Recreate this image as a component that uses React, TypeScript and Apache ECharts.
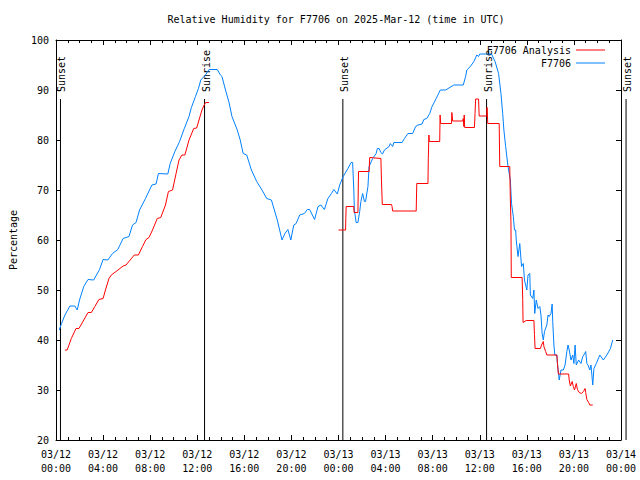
import React, { useEffect, useRef } from "react";
import * as echarts from "echarts";

// hours since 2025-03-12 00:00 UTC, relative humidity %
const observed: [number, number][] = [
  [0.28, 42], [0.47, 43.3], [0.76, 45], [1.18, 46.8], [1.6, 46.8], [1.8, 46], [2.0, 48],
  [2.36, 50.7], [2.72, 52.1], [3.2, 52], [3.7, 54.1], [4.0, 56.1], [4.4, 56], [4.8, 57.3],
  [5.25, 58.1], [5.7, 60.3], [6.2, 60.7], [6.5, 63], [6.8, 63.5], [7.1, 66], [7.6, 68.3],
  [8.15, 71], [8.5, 71.2], [8.7, 73.3], [9.5, 73.2], [9.7, 75.3], [10.1, 77.7], [10.5, 79.7],
  [10.9, 82.3], [11.3, 84.7], [11.5, 86.5], [11.85, 88.7], [12.1, 90.3], [12.3, 92],
  [12.7, 93], [13.0, 94.1], [13.7, 94.1], [13.97, 93], [14.1, 92.7], [14.4, 90],
  [14.7, 87.5], [14.95, 84.7], [15.4, 82], [15.65, 80], [15.9, 77.3], [16.2, 77],
  [16.6, 74], [17.05, 71.7], [17.5, 70], [17.9, 68.3], [18.3, 68], [18.55, 66], [18.8, 64],
  [19.2, 60], [19.45, 61.3], [19.7, 62.1], [19.95, 60], [20.2, 63], [20.4, 63.3], [20.7, 65],
  [21.1, 65.3], [21.35, 66.1], [21.55, 66.1], [21.97, 64.1], [22.26, 66.7], [22.5, 67],
  [22.8, 66.1], [23.1, 68.3], [23.4, 69.3], [23.6, 70.1], [23.9, 69.2], [24.1, 71],
  [24.4, 72.7], [24.8, 74.3], [25.07, 75.5], [25.2, 75.5], [25.3, 70], [25.35, 66],
  [25.5, 63.5], [25.65, 63.5], [25.8, 65.7], [25.9, 67.7], [26.05, 69.3], [26.2, 67.7],
  [26.3, 67.7], [26.5, 70.7], [26.6, 74.7], [26.9, 76.3], [27.2, 77.3], [27.3, 78.3],
  [27.45, 78.3], [27.6, 77.5], [27.74, 77.2], [27.9, 78], [28.3, 78.7], [28.4, 79.3],
  [28.6, 78.7], [28.7, 79.5], [29.4, 79.5], [29.6, 80.3], [29.9, 81.3], [30.3, 81.3],
  [30.55, 82.7], [30.75, 83], [31.1, 83.2], [31.25, 84.1], [31.5, 84.3], [31.75, 85.3],
  [31.95, 86.7], [32.3, 88.3], [32.65, 90], [33.1, 90], [33.8, 91], [34.6, 91],
  [34.8, 92.7], [34.9, 94], [35.2, 94.7], [35.5, 95.7], [35.75, 97], [35.9, 96.7],
  [36.0, 97.2], [37.0, 97.2], [37.3, 95.7], [37.6, 93.3], [37.8, 89.3], [37.95, 85.3],
  [38.05, 82], [38.2, 78.7], [38.4, 74.7], [38.6, 72], [38.7, 67.3], [38.85, 64.7],
  [38.95, 62], [39.05, 62], [39.1, 60], [39.25, 56.7], [39.4, 59.3], [39.55, 54.7],
  [39.7, 55.3], [39.8, 52], [40.0, 50], [40.1, 53], [40.25, 53.3], [40.3, 49], [40.5, 48.3],
  [40.6, 50], [40.67, 45.3], [40.8, 48], [40.95, 46.3], [41.1, 46.7], [41.2, 45],
  [41.3, 41.3], [41.4, 40], [41.5, 41.7], [41.7, 43], [41.8, 45], [41.9, 44.7],
  [42.05, 45.3], [42.15, 47.2], [42.2, 43.7], [42.3, 39], [42.38, 37], [42.55, 37],
  [42.6, 35.3], [42.75, 32], [42.9, 34], [43.1, 34], [43.25, 35], [43.4, 37.7], [43.5, 39],
  [43.6, 38], [43.75, 36], [43.9, 37], [44.0, 35.3], [44.1, 39], [44.2, 35], [44.4, 36],
  [44.6, 35.3], [44.75, 36.7], [44.9, 37.2], [45.0, 37.7], [45.1, 35.3], [45.2, 35],
  [45.35, 34], [45.45, 35], [45.6, 31], [45.7, 34.3], [45.9, 35.3], [46.2, 37], [46.5, 36],
  [46.8, 37], [47.1, 38.3], [47.3, 40],
];

const analysisDay1: [number, number][] = [
  [0.76, 38], [0.95, 38], [1.3, 40.3], [1.7, 42.3], [1.95, 42.3], [2.36, 44], [2.72, 45.5],
  [3.0, 45.5], [3.3, 46.7], [3.65, 48.1], [4.0, 48.3], [4.2, 50], [4.5, 52.3], [4.7, 53],
  [5.1, 53.7], [5.7, 54.8], [5.95, 55], [6.3, 56], [6.65, 57], [7.0, 57], [7.35, 58.7],
  [7.65, 60.1], [7.9, 60.5], [8.2, 62], [8.6, 64.3], [8.9, 64.5], [9.3, 67], [9.55, 69.7],
  [9.9, 70], [10.2, 73.3], [10.45, 76], [10.7, 77], [10.95, 77], [11.3, 80], [11.7, 82.3],
  [11.95, 82.4], [12.15, 84], [12.4, 86], [12.65, 87.3], [12.75, 87.5], [13.0, 87.5],
];

const analysisDay2: [number, number][] = [
  [24.0, 62], [24.6, 62], [24.62, 64.3], [24.65, 66.7], [25.3, 66.7], [25.32, 65.5],
  [25.65, 65.5], [25.7, 73.7], [26.6, 73.7], [26.65, 76.5], [27.6, 76.3], [27.65, 72],
  [27.72, 67.1], [28.5, 67.1], [28.55, 66.7], [28.6, 65.8], [30.6, 65.8], [30.65, 71.3],
  [31.6, 71.3], [31.63, 76.3], [31.68, 81], [31.72, 79.7], [32.6, 79.7], [32.63, 85],
  [32.68, 83.3], [33.6, 83.3], [33.63, 85.5], [33.7, 83.8], [34.55, 83.8], [34.6, 84.3],
  [34.65, 82.7], [34.68, 85], [34.72, 82.5], [35.55, 82.5], [35.6, 85.3], [35.65, 88.2],
  [35.9, 88.2], [35.95, 84.8], [36.6, 84.8], [36.62, 86.5], [36.68, 83.3], [37.65, 83.3],
  [37.7, 74.7], [38.55, 74.7], [38.6, 68], [38.65, 63.7], [38.68, 52.5], [39.6, 52.5],
  [39.65, 48.1], [39.68, 43.5], [39.95, 43.9], [40.6, 43.9], [40.65, 41.1], [40.7, 38.3],
  [41.15, 38.3], [41.25, 39], [41.4, 39.7], [41.45, 38.7], [41.6, 37.7], [41.7, 37],
  [42.55, 37], [42.6, 35.3], [42.68, 33.2], [43.55, 33.2], [43.6, 32], [43.7, 30.8],
  [43.85, 31.7], [43.95, 30.7], [44.05, 30], [44.2, 31.3], [44.3, 30.1], [44.45, 29.5],
  [44.65, 29.3], [44.8, 29.7], [44.95, 30.3], [45.0, 29.5], [45.1, 28.1], [45.25, 27.5],
  [45.35, 27], [45.6, 27],
];

const sunTimes = [0.38, 12.62, 24.37, 36.58, 48.43];
const sunLabels = ["Sunset", "Sunrise", "Sunset", "Sunrise", "Sunset"];
const sunLineTop = 88.2;

const xTicks = { min: 0, max: 48, interval: 4 };
const yTicks = { min: 20, max: 100, interval: 10 };

const FONT = "DejaVu Sans Mono";

function fmtTime(v: number): string {
  const day = 12 + Math.floor(v / 24);
  const hh = Math.round(v % 24);
  return `03/${String(day).padStart(2, "0")}\n${String(hh).padStart(2, "0")}:00`;
}

export default function App() {
  const ref = useRef<HTMLDivElement>(null);
  useEffect(() => {
    document.body.style.margin = "0";
    if (!ref.current) return;
    const chart = echarts.init(ref.current, undefined, { renderer: "svg" });
    const axisLine = { show: true, onZero: false, lineStyle: { color: "#000", width: 1 } };
    const tick = { show: true, inside: true, length: 5, lineStyle: { color: "#000" } };
    const minor = { show: true, splitNumber: 4, length: 3, lineStyle: { color: "#000" } };
    const redData: any[] = [...analysisDay1, [18.5, "-"], ...analysisDay2];
    chart.setOption({
      animation: false,
      backgroundColor: "#fff",
      textStyle: { fontFamily: FONT, fontSize: 10, color: "#000" },
      title: {
        text: "Relative Humidity for F7706 on 2025-Mar-12 (time in UTC)",
        left: 331,
        textAlign: "center",
        top: 9,
        textStyle: { fontFamily: FONT, fontSize: 10, fontWeight: "normal", color: "#000" },
      },
      legend: {
        orient: "vertical",
        right: 30,
        top: 39,
        align: "right",
        itemWidth: 29,
        itemHeight: 1,
        itemGap: 1,
        textStyle: { fontFamily: FONT, fontSize: 10, color: "#000", lineHeight: 12 },
        data: [
          { name: "F7706 Analysis", icon: "rect" },
          { name: "F7706", icon: "rect" },
        ],
      },
      grid: { left: 53, right: 19, top: 40, bottom: 40, containLabel: false },
      xAxis: [
        {
          type: "value",
          ...xTicks,
          axisLine,
          axisTick: tick,
          minorTick: minor,
          splitLine: { show: false },
          axisLabel: {
            margin: 7,
            fontFamily: FONT,
            fontSize: 10,
            color: "#000",
            lineHeight: 14,
            formatter: fmtTime,
          },
        },
        {
          type: "value",
          position: "top",
          ...xTicks,
          axisLine,
          axisTick: tick,
          minorTick: minor,
          splitLine: { show: false },
          axisLabel: { show: false },
        },
      ],
      yAxis: [
        {
          type: "value",
          ...yTicks,
          axisLine,
          axisTick: tick,
          splitLine: { show: false },
          axisLabel: { margin: 7, fontFamily: FONT, fontSize: 10, color: "#000" },
          name: "Percentage",
          nameLocation: "middle",
          nameRotate: 90,
          nameGap: 38,
          nameTextStyle: { fontFamily: FONT, fontSize: 10, color: "#000" },
        },
        {
          type: "value",
          position: "right",
          ...yTicks,
          axisLine,
          axisTick: tick,
          splitLine: { show: false },
          axisLabel: { show: false },
        },
      ],
      series: [
        {
          name: "F7706 Analysis",
          type: "line",
          data: redData,
          symbol: "none",
          showSymbol: false,
          lineStyle: { color: "#ff0000", width: 1 },
          itemStyle: { color: "#ff0000" },
          z: 3,
        },
        {
          name: "F7706",
          type: "line",
          data: observed,
          symbol: "none",
          showSymbol: false,
          lineStyle: { color: "#0080ff", width: 1 },
          itemStyle: { color: "#0080ff" },
          z: 2,
        },
        {
          name: "sun",
          type: "custom",
          clip: false,
          silent: true,
          data: sunTimes.map((t) => [t, sunLineTop]),
          renderItem: (params: any, api: any) => {
            const t = api.value(0);
            const top = api.coord([t, api.value(1)]);
            const bottom = api.coord([t, 20]);
            const label = sunLabels[params.dataIndex];
            return {
              type: "group",
              children: [
                {
                  type: "line",
                  shape: { x1: top[0], y1: top[1], x2: bottom[0], y2: bottom[1] },
                  style: { stroke: "#000", lineWidth: 1 },
                },
                {
                  type: "text",
                  x: top[0] + 1.5,
                  y: top[1] - 7,
                  rotation: Math.PI / 2,
                  style: {
                    text: label,
                    font: `10px "${FONT}"`,
                    fill: "#000",
                    align: "left",
                    verticalAlign: "middle",
                  },
                },
              ],
            };
          },
          z: 1,
        },
      ],
    });
    return () => chart.dispose();
  }, []);
  return <div ref={ref} style={{ width: 640, height: 480 }} />;
}
